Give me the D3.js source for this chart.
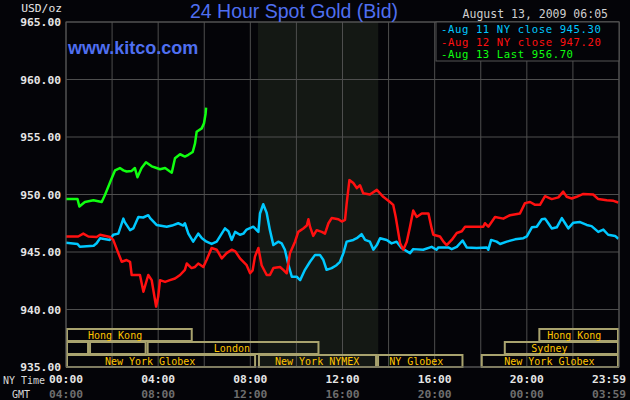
<!DOCTYPE html>
<html>
<head>
<meta charset="utf-8">
<script src="https://cdn.jsdelivr.net/npm/d3@7"></script>
<style>
  html, body { margin: 0; padding: 0; background: #040408; }
  svg { display: block; }
</style>
</head>
<body>
<div id="chart"></div>
<script>
// hours after NY midnight, USD/oz
const aug11 = [
  [0.0, 945.8], [0.5, 945.7], [0.6, 945.45], [1.2, 945.55], [1.33, 945.76], [1.48, 946.2], [1.9, 946.05],
  [2.05, 946.5], [2.27, 946.6], [2.49, 947.9], [2.55, 947.6], [2.78, 946.9], [2.92, 947.05], [3.14, 948.05],
  [3.35, 948.0], [3.57, 948.2], [3.65, 947.95], [3.93, 947.35], [4.37, 947.2], [4.6, 947.3], [4.87, 947.5],
  [5.09, 947.3], [5.16, 947.5], [5.31, 946.6], [5.52, 945.9], [5.74, 946.6], [5.9, 946.2], [6.1, 945.9],
  [6.32, 945.7], [6.54, 945.9], [6.9, 947.05], [7.05, 946.8], [7.19, 946.05], [7.34, 946.75], [7.55, 946.5],
  [7.7, 946.6], [7.84, 946.95], [8.13, 947.2], [8.35, 946.75], [8.42, 948.35], [8.56, 949.15], [8.71, 948.4],
  [8.85, 946.9], [9.0, 945.6], [9.21, 945.9], [9.36, 945.75], [9.5, 945.2], [9.65, 943.9], [9.8, 942.85],
  [10.01, 942.85], [10.16, 942.55], [10.37, 943.45], [10.59, 944.15], [10.81, 944.75], [11.02, 944.75],
  [11.17, 944.3], [11.31, 943.45], [11.53, 943.6], [11.74, 943.85], [11.89, 944.15], [12.04, 944.9],
  [12.18, 945.9], [12.47, 946.05], [12.62, 946.2], [12.83, 946.55], [12.98, 946.05], [13.19, 945.9],
  [13.34, 945.2], [13.49, 945.6], [13.63, 946.2], [13.92, 946.05], [14.13, 945.75], [14.35, 945.9],
  [14.56, 945.35], [14.93, 944.9], [15.07, 945.25], [15.5, 945.2], [15.87, 945.45], [16.08, 945.2],
  [16.16, 945.4], [16.59, 945.4], [16.74, 945.25], [16.96, 945.45], [17.21, 946.0], [17.39, 945.4],
  [17.82, 945.35], [18.26, 945.4], [18.33, 945.2], [18.45, 946.05], [18.69, 945.9], [18.84, 945.7],
  [19.13, 945.9], [19.49, 946.1], [19.85, 946.2], [20.0, 946.35], [20.22, 947.15], [20.43, 947.2],
  [20.65, 947.85], [20.79, 947.9], [20.93, 947.5], [21.08, 947.05], [21.3, 947.15], [21.52, 947.95],
  [21.66, 947.5], [21.8, 947.05], [22.02, 947.55], [22.31, 947.6], [22.6, 947.35], [22.81, 947.25],
  [23.1, 946.75], [23.32, 946.95], [23.53, 946.5], [23.83, 946.4], [23.97, 946.15]
];

const aug12 = [
  [0.0, 946.35], [0.53, 946.35], [0.75, 946.6], [0.97, 946.35], [1.33, 946.3], [1.48, 946.5], [1.91, 946.3],
  [2.05, 946.05], [2.27, 944.9], [2.42, 944.15], [2.63, 944.3], [2.78, 944.15], [2.85, 943.0], [3.21, 943.0],
  [3.36, 941.55], [3.57, 943.0], [3.72, 942.55], [3.79, 941.7], [3.91, 940.25], [4.0, 941.1], [4.08, 942.55],
  [4.3, 942.4], [4.51, 942.55], [4.73, 942.7], [4.95, 943.0], [5.16, 943.45], [5.24, 944.0], [5.45, 943.6],
  [5.6, 943.7], [5.74, 944.0], [5.96, 943.7], [6.1, 944.3], [6.32, 945.35], [6.54, 945.2], [6.76, 944.45],
  [6.97, 944.9], [7.19, 945.2], [7.35, 945.05], [7.55, 944.45], [7.84, 943.85], [7.99, 943.15], [8.1, 943.4],
  [8.2, 944.6], [8.35, 945.35], [8.49, 943.85], [8.71, 943.0], [8.85, 943.0], [9.0, 943.6], [9.29, 943.7],
  [9.43, 943.45], [9.58, 943.15], [9.72, 944.9], [9.94, 945.9], [10.08, 946.75], [10.3, 947.05],
  [10.45, 947.3], [10.52, 947.85], [10.59, 947.2], [10.73, 946.4], [10.88, 946.9], [11.1, 946.75],
  [11.24, 946.6], [11.39, 947.5], [11.53, 947.95], [11.82, 947.85], [11.97, 947.65], [12.11, 947.8],
  [12.18, 949.2], [12.3, 951.25], [12.47, 951.0], [12.62, 950.55], [12.76, 950.8], [12.9, 950.1],
  [13.19, 950.0], [13.49, 950.4], [13.77, 949.8], [14.06, 949.35], [14.2, 949.1], [14.31, 948.05],
  [14.5, 945.75], [14.64, 945.2], [14.79, 945.9], [14.93, 947.2], [15.07, 948.6], [15.22, 948.05],
  [15.44, 948.35], [15.73, 948.35], [15.87, 947.05], [15.94, 946.5], [16.23, 946.35], [16.38, 945.9],
  [16.52, 945.6], [16.74, 946.05], [16.96, 946.65], [17.18, 946.8], [17.32, 947.2], [18.11, 947.2],
  [18.18, 947.5], [18.33, 947.2], [18.62, 948.05], [18.98, 947.9], [19.27, 948.2], [19.7, 948.35],
  [19.92, 949.25], [20.14, 949.35], [20.36, 949.1], [20.57, 949.1], [20.79, 949.85], [21.08, 949.6],
  [21.37, 949.75], [21.58, 950.25], [21.73, 949.8], [21.95, 949.65], [22.16, 949.8], [22.45, 950.05],
  [22.88, 950.0], [23.1, 949.6], [23.47, 949.5], [23.76, 949.45], [23.97, 949.3]
];

const aug13 = [
  [0.0, 949.6], [0.5, 949.6], [0.58, 948.95], [0.82, 949.35], [1.19, 949.5], [1.55, 949.35], [1.69, 949.95],
  [1.84, 950.7], [1.98, 951.4], [2.13, 952.1], [2.34, 952.3], [2.49, 952.1], [2.63, 952.0], [2.85, 952.05],
  [2.99, 952.3], [3.1, 951.5], [3.28, 952.3], [3.47, 952.8], [3.72, 952.45], [3.93, 952.3], [4.08, 952.2],
  [4.3, 952.3], [4.51, 952.0], [4.59, 951.9], [4.73, 953.15], [4.95, 953.5], [5.16, 953.3], [5.31, 953.45],
  [5.5, 953.7], [5.6, 954.45], [5.67, 955.45], [5.89, 955.75], [5.99, 956.2], [6.06, 957.05], [6.08, 957.55]
];

const seriesNames = ["Aug 11 NY close 945.30", "Aug 12 NY close 947.20", "Aug 13 Last 956.70"];
const seriesColors = ["#00c8ff", "#ff1010", "#10ff10"];

const yTicks = [935, 940, 945, 950, 955, 960, 965];
const nyTimeLabels = ["00:00", "04:00", "08:00", "12:00", "16:00", "20:00", "23:59"];
const gmtLabels = ["04:00", "08:00", "12:00", "16:00", "20:00", "00:00", "03:59"];
const labelHours = [0, 4, 8, 12, 16, 20, 24];

// market sessions: row, start, end, label, label centre (hours)
const sessions = [
  [0, 0, 5.5, "Hong Kong", 2.13],
  [0, 20.5, 24, "Hong Kong", 22.06],
  [1, 0, 1, "", 0],
  [1, 1, 3.5, "", 0],
  [1, 3.5, 11, "London", 7.2],
  [1, 19, 24, "Sydney", 20.98],
  [2, 0, 8.25, "New York Globex", 3.65],
  [2, 8.33, 13.5, "New York NYMEX", 10.9],
  [2, 13.5, 17.25, "NY Globex", 15.2],
  [2, 18, 24, "New York Globex", 20.98]
];
const nymexShade = [8.33, 13.55];

const W = 630, H = 400;
const margin = { top: 22, right: 11, bottom: 33, left: 66 };
const mono = "'DejaVu Sans Mono', 'Liberation Mono', monospace";

const svg = d3.select("#chart").append("svg")
  .attr("width", W)
  .attr("height", H)
  .style("background", "#040408");

const x = d3.scaleLinear().domain([0, 24]).range([margin.left, W - margin.right]);
const y = d3.scaleLinear().domain([935, 965]).range([H - margin.bottom, margin.top]);

// NYMEX pit session shading
svg.append("rect")
  .attr("x", x(nymexShade[0]))
  .attr("y", y(965))
  .attr("width", x(nymexShade[1]) - x(nymexShade[0]))
  .attr("height", y(935) - y(965))
  .attr("fill", "#141814");

// grid
svg.append("g")
  .selectAll("line")
  .data(d3.range(0, 25, 2))
  .join("line")
  .attr("x1", d => x(d)).attr("x2", d => x(d))
  .attr("y1", y(965)).attr("y2", y(935))
  .attr("stroke", "#4e4e4e");

svg.append("g")
  .selectAll("line")
  .data(yTicks)
  .join("line")
  .attr("x1", x(0)).attr("x2", x(24))
  .attr("y1", d => y(d)).attr("y2", d => y(d))
  .attr("stroke", "#4e4e4e");

// y labels
svg.append("g")
  .selectAll("text")
  .data(yTicks)
  .join("text")
  .attr("x", margin.left - 5)
  .attr("y", d => y(d))
  .attr("dy", "0.36em")
  .attr("text-anchor", "end")
  .attr("font-family", mono)
  .attr("font-weight", "bold")
  .attr("font-size", 11.3)
  .attr("fill", "#e6e6e6")
  .text(d => d3.format(".2f")(d));

svg.append("text")
  .attr("x", margin.left - 4).attr("y", 8)
  .attr("dy", "0.36em")
  .attr("text-anchor", "end")
  .attr("font-family", mono)
  .attr("font-size", 11.3)
  .attr("fill", "#e6e6e6")
  .text("USD/oz");

// x labels (last one pulled inside the window)
const xLabelX = d => d === 24 ? W - 4 : x(d);
const xLabelAnchor = d => d === 24 ? "end" : "middle";

svg.append("g")
  .selectAll("text")
  .data(labelHours)
  .join("text")
  .attr("x", xLabelX)
  .attr("y", H - margin.bottom + 12)
  .attr("dy", "0.36em")
  .attr("text-anchor", xLabelAnchor)
  .attr("font-family", mono)
  .attr("font-weight", "bold")
  .attr("font-size", 11.3)
  .attr("fill", "#e6e6e6")
  .text((d, i) => nyTimeLabels[i]);

svg.append("g")
  .selectAll("text")
  .data(labelHours)
  .join("text")
  .attr("x", xLabelX)
  .attr("y", H - margin.bottom + 27)
  .attr("dy", "0.36em")
  .attr("text-anchor", xLabelAnchor)
  .attr("font-family", mono)
  .attr("font-weight", "bold")
  .attr("font-size", 11.3)
  .attr("fill", "#6e6e6e")
  .text((d, i) => gmtLabels[i]);

svg.append("text")
  .attr("x", 3).attr("y", H - margin.bottom + 13)
  .attr("dy", "0.36em")
  .attr("font-family", mono).attr("font-size", 10)
  .attr("fill", "#d8d8d8")
  .text("NY Time");

svg.append("text")
  .attr("x", 12).attr("y", H - margin.bottom + 27)
  .attr("dy", "0.36em")
  .attr("font-family", mono).attr("font-size", 10)
  .attr("fill", "#d8d8d8")
  .text("GMT");

// session boxes
const row = d3.scaleBand().domain([0, 1, 2]).range([y(935) - 39, y(935)]);

const sess = svg.append("g")
  .selectAll("g")
  .data(sessions)
  .join("g");

sess.append("rect")
  .attr("x", d => x(d[1]) + 1)
  .attr("y", d => row(d[0]) + 1)
  .attr("width", d => x(d[2]) - x(d[1]) - 2)
  .attr("height", row.bandwidth() - 1)
  .attr("fill", "none")
  .attr("stroke", "#a9a36e")
  .attr("stroke-width", 2);

sess.append("text")
  .attr("x", d => x(d[4]))
  .attr("y", d => row(d[0]) + row.bandwidth() / 2 + 1)
  .attr("dy", "0.36em")
  .attr("text-anchor", "middle")
  .attr("font-family", mono)
  .attr("font-size", 10)
  .attr("fill", "#ffc400")
  .text(d => d[3]);

// price lines
const line = d3.line()
  .x(d => x(d[0]))
  .y(d => y(d[1]));

svg.append("g")
  .selectAll("path")
  .data([aug11, aug12, aug13])
  .join("path")
  .attr("d", line)
  .attr("fill", "none")
  .attr("stroke", (d, i) => seriesColors[i])
  .attr("stroke-width", 2.5)
  .attr("stroke-linejoin", "round");

// plot frame
svg.append("rect")
  .attr("x", x(0)).attr("y", y(965))
  .attr("width", x(24) - x(0))
  .attr("height", y(935) - y(965))
  .attr("fill", "none")
  .attr("stroke", "#555");

// legend
const lg = svg.append("g");
lg.append("rect")
  .attr("x", 436).attr("y", y(965))
  .attr("width", x(24) - 436)
  .attr("height", 39)
  .attr("fill", "#040408")
  .attr("stroke", "#555");

lg.selectAll("text")
  .data(seriesNames)
  .join("text")
  .attr("x", 441)
  .attr("y", (d, i) => y(965) + 7.5 + i * 12.4)
  .attr("dy", "0.36em")
  .attr("font-family", mono)
  .attr("font-size", 10.6)
  .attr("letter-spacing", 0.6)
  .attr("fill", (d, i) => seriesColors[i])
  .text(d => "-" + d);

// titles
svg.append("text")
  .attr("x", 294).attr("y", 11)
  .attr("dy", "0.36em")
  .attr("text-anchor", "middle")
  .attr("font-family", "'Liberation Sans', Arial, sans-serif")
  .attr("font-size", 19.5)
  .attr("fill", "#4f6ff0")
  .text("24 Hour Spot Gold (Bid)");

svg.append("text")
  .attr("x", 608).attr("y", 14)
  .attr("dy", "0.36em")
  .attr("text-anchor", "end")
  .attr("font-family", mono)
  .attr("font-size", 11.5)
  .attr("fill", "#cfcfcf")
  .text("August 13, 2009 06:05");

svg.append("text")
  .attr("x", 68).attr("y", 48)
  .attr("dy", "0.36em")
  .attr("font-family", "'Liberation Sans', Arial, sans-serif")
  .attr("font-weight", "bold")
  .attr("font-size", 18)
  .attr("fill", "#4f6ff0")
  .text("www.kitco.com");
</script>
</body>
</html>
